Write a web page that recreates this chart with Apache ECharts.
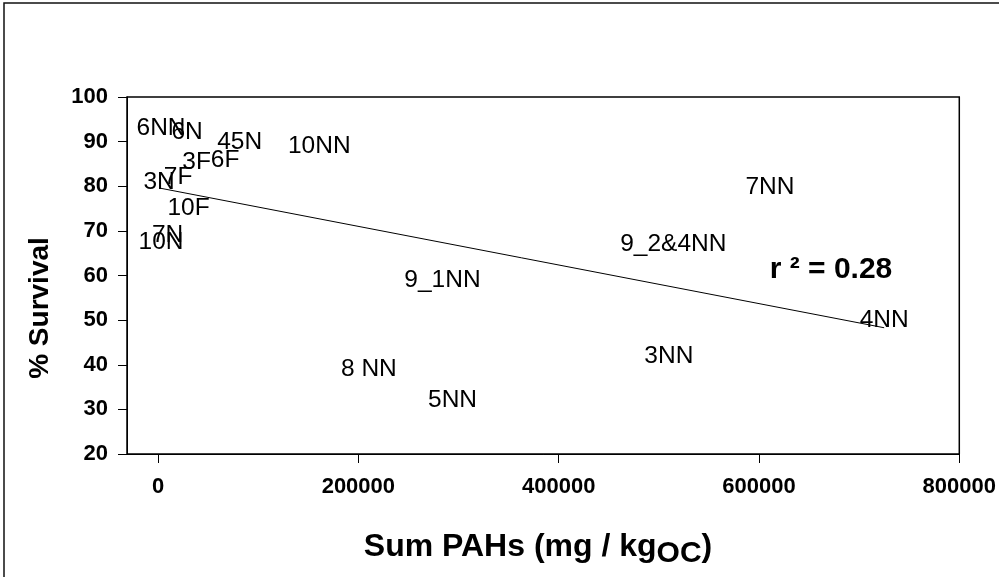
<!DOCTYPE html>
<html>
<head>
<meta charset="utf-8">
<style>
  html, body { margin: 0; padding: 0; background: #fff; }
  #chart { width: 999px; height: 577px; }
</style>
<script src="https://cdn.jsdelivr.net/npm/echarts@6/dist/echarts.min.js"></script>
</head>
<body>
<div id="chart"></div>
<script>
// Sample sites, total PAHs (mg / kg organic carbon) and % survival
const sites    = ['6NN', '6N', '45N', '10NN', '3F', '6F', '7F', '3N', '10F', '7N', '10N',
                  '7NN', '9_2&4NN', '4NN', '3NN', '8 NN', '5NN', '9_1NN'];
const sumPAHs  = [3000, 29000, 81500, 161000, 38500, 67000, 20000, 1000, 30500, 9500, 3000,
                  611000, 514500, 725000, 510000, 210500, 294000, 284000];
const survival = [93.1, 92.1, 89.8, 89.0, 85.3, 85.8, 82.1, 81.0, 75.1, 69.0, 67.4,
                  79.8, 67.0, 50.0, 41.8, 39.0, 32.1, 59.0];

const xTicks = [0, 200000, 400000, 600000, 800000];
const yTicks = [20, 30, 40, 50, 60, 70, 80, 90, 100];

// Least-squares trend line over the sampled range
const n = sumPAHs.length;
const mx = sumPAHs.reduce((a, b) => a + b, 0) / n;
const my = survival.reduce((a, b) => a + b, 0) / n;
let sxy = 0, sxx = 0;
for (let i = 0; i < n; i++) {
  sxy += (sumPAHs[i] - mx) * (survival[i] - my);
  sxx += (sumPAHs[i] - mx) * (sumPAHs[i] - mx);
}
const slope = sxy / sxx;
const intercept = my - slope * mx;
const xLo = Math.min(...sumPAHs), xHi = Math.max(...sumPAHs);
const trend = [[xLo, intercept + slope * xLo], [xHi, intercept + slope * xHi]];

const FONT = '"Liberation Sans", Arial, Helvetica, sans-serif';

const chart = echarts.init(document.getElementById('chart'), null, { renderer: 'canvas' });
chart.setOption({
  animation: false,
  backgroundColor: '#fff',
  grid: {
    left: 127, right: 39, top: 97, bottom: 123,
    show: true, borderColor: '#000', borderWidth: 1.5, backgroundColor: 'transparent'
  },
  xAxis: {
    type: 'value',
    min: -31000, max: 800000,
    splitLine: { show: false },
    axisLine: { show: true, onZero: false, lineStyle: { color: '#000', width: 1 } },
    axisTick: { show: true, length: 9, customValues: xTicks, lineStyle: { color: '#000' } },
    axisLabel: {
      customValues: xTicks, margin: 22, color: '#000',
      formatter: v => String(v),
      fontFamily: FONT, fontWeight: 'bold', fontSize: 22
    }
  },
  yAxis: {
    type: 'value',
    min: yTicks[0], max: yTicks[yTicks.length - 1], interval: 10,
    splitLine: { show: false },
    axisLine: { show: true, onZero: false, lineStyle: { color: '#000', width: 1 } },
    axisTick: { show: true, length: 9, lineStyle: { color: '#000' } },
    axisLabel: {
      margin: 19, color: '#000',
      fontFamily: FONT, fontWeight: 'bold', fontSize: 22
    }
  },
  series: [
    {
      type: 'line',
      data: trend,
      symbol: 'none',
      silent: true,
      lineStyle: { color: '#000', width: 1 },
      z: 2
    },
    {
      type: 'scatter',
      symbolSize: 0,
      silent: true,
      itemStyle: { opacity: 1 },
      data: sites.map((s, i) => ({ name: s, value: [sumPAHs[i], survival[i]] })),
      label: {
        show: true,
        position: 'inside',
        formatter: p => p.name,
        color: '#000',
        opacity: 1,
        textBorderWidth: 0,
        fontFamily: FONT,
        fontSize: 24.5
      },
      z: 3
    }
  ],
  graphic: [
    {
      type: 'rect',
      shape: { x: 4, y: 3, width: 1010, height: 600 },
      style: { fill: 'none', stroke: '#111', lineWidth: 1.5 },
      silent: true
    },
    {
      type: 'text',
      x: 40, y: 308,
      rotation: Math.PI / 2,
      style: {
        text: '% Survival',
        fontFamily: FONT, fontWeight: 'bold', fontSize: 28,
        fill: '#000', align: 'center', verticalAlign: 'middle'
      }
    },
    {
      type: 'text',
      x: 538, y: 547,
      style: {
        text: '{m|Sum PAHs (mg / kg}{s|OC}{m|)}',
        fill: '#000', align: 'center', verticalAlign: 'middle',
        rich: {
          m: { fontFamily: FONT, fontWeight: 'bold', fontSize: 32, fill: '#000' },
          s: { fontFamily: FONT, fontWeight: 'bold', fontSize: 30, fill: '#000', padding: [14, 0, 0, 0] }
        }
      }
    },
    {
      type: 'text',
      x: 831, y: 270,
      style: {
        text: 'r ² = 0.28',
        fontFamily: FONT, fontWeight: 'bold', fontSize: 30,
        fill: '#000', align: 'center', verticalAlign: 'middle'
      }
    }
  ]
});
</script>
</body>
</html>
